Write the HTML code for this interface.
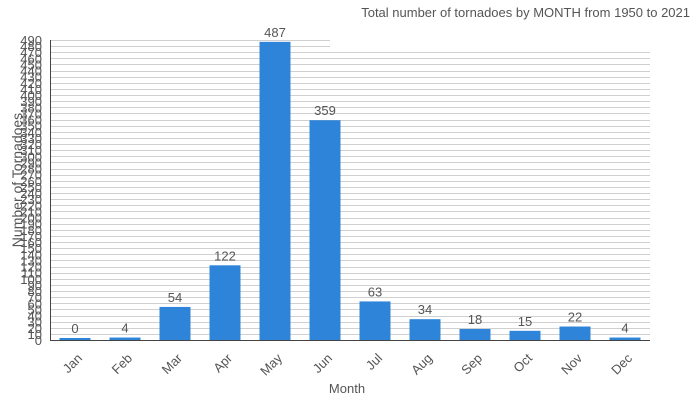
<!DOCTYPE html><html><head><style>body{margin:0;background:#fff}</style></head><body>
<svg width="700" height="400" xmlns="http://www.w3.org/2000/svg" font-family="Liberation Sans, sans-serif" fill="#555">
<text x="690" y="17" text-anchor="end" font-size="13">Total number of tornadoes by MONTH from 1950 to 2021</text>
<g id="grid" stroke="#d0d0d0" stroke-width="1"></g>
<g id="yl" font-size="13" text-anchor="end"></g>
<line x1="50.5" y1="40" x2="50.5" y2="340" stroke="#444"/>
<line x1="50" y1="340.5" x2="650" y2="340.5" stroke="#444"/>
<g id="bars"></g>
<text x="347" y="393" text-anchor="middle" font-size="13">Month</text>
<text transform="translate(22,180) rotate(-90)" text-anchor="middle" font-size="14">Number of Tornadoes</text>
</svg>
<script>
var ns="http://www.w3.org/2000/svg";
function el(p,t,a,txt){var e=document.createElementNS(ns,t);for(var k in a)e.setAttribute(k,a[k]);if(txt!=null)e.textContent=txt;document.getElementById(p).appendChild(e);}
var s=300/490;
for(var v=0;v<=490;v+=10){var y=340-v*s;if(v>0)el("grid","line",{x1:51,x2:v>=480?330:650,y1:Math.round(y)+.5,y2:Math.round(y)+.5});el("yl","text",{x:42,y:y+5},v);}
var m=["Jan","Feb","Mar","Apr","May","Jun","Jul","Aug","Sep","Oct","Nov","Dec"],d=[0,4,54,122,487,359,63,34,18,15,22,4];
for(var i=0;i<12;i++){var c=75+50*i,h=Math.max(d[i]*s,2);
el("bars","rect",{x:c-15.5,y:340-h,width:31,height:h,fill:"#2e84d9"});
el("bars","text",{x:c,y:340-h-5,"text-anchor":"middle","font-size":13},d[i]);
el("bars","text",{transform:"translate("+(c+8)+",359) rotate(-45)","text-anchor":"end","font-size":13},m[i]);}
</script>
</body></html>
